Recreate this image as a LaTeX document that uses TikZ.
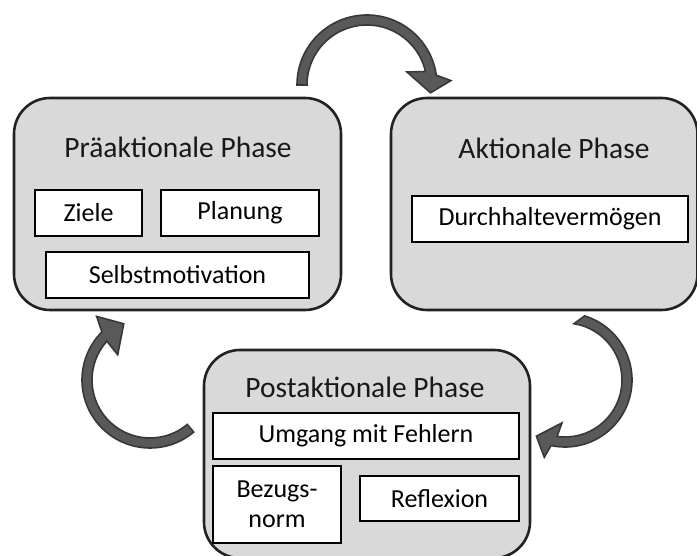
\documentclass[tikz,border=0pt]{standalone}
\usepackage{fontspec}
\setmainfont{Carlito}
\definecolor{boxgray}{HTML}{D9D9D9}
\definecolor{edgec}{HTML}{222222}
\definecolor{arrowfill}{HTML}{595959}
\definecolor{arrowedge}{HTML}{383838}
\begin{document}
\begin{tikzpicture}[x=1pt,y=1pt,
  phase/.style={draw=edgec, line width=2.6pt, fill=boxgray, rounded corners=36pt, inner sep=0pt},
  item/.style={draw=black, line width=2.6pt, fill=white, inner sep=0pt, align=center,
    font=\fontsize{26}{30}\selectfont},
  ptitle/.style={inner sep=0pt, font=\fontsize{29.5}{33}\selectfont, text=black!90},
  cyc/.style={fill=arrowfill, draw=arrowedge, line width=1.6pt, line join=miter}]
\useasboundingbox (0,0) rectangle (697,556);
\fill[white] (0,0) rectangle (697,556);
% phases
\node[phase, minimum width=327pt, minimum height=212pt] (pre) at (177.5,352) {};
\node[phase, minimum width=306.5pt, minimum height=212pt] (akt) at (544.25,352) {};
\node[phase, minimum width=326pt, minimum height=208pt] (post) at (367,102) {};
% titles
\node[ptitle] (pretitle) at (178,409) {Präaktionale Phase};
\node[ptitle] (akttitle) at (554,408) {Aktionale Phase};
\node[ptitle] (posttitle) at (365,169) {Postaktionale Phase};
% items
\node[item, minimum width=107pt, minimum height=46pt] (ziele) at (88.5,343) {Ziele};
\node[item, minimum width=158pt, minimum height=46pt] (planung) at (240,343) {Planung};
\node[item, minimum width=263pt, minimum height=46pt] (selbst) at (177.5,281) {Selbstmotivation};
\node[item, minimum width=276pt, minimum height=46pt] (durch) at (550,337) {Durchhaltevermögen};
\node[item, minimum width=306pt, minimum height=46pt] (umgang) at (366,120) {Umgang mit Fehlern};
\node[item, minimum width=128pt, minimum height=77pt] (bezug) at (277,51.5) {Bezugs-\\norm};
\node[item, minimum width=159pt, minimum height=45pt] (reflex) at (439.5,57.5) {Reflexion};
% cycle arrows
\coordinate (ctop) at (367,471);
\coordinate (cright) at (565,176);
\coordinate (cleft) at (150,176);
\begin{scope}[shift={(ctop)}]
  \filldraw[cyc] (180:70) arc[start angle=180,end angle=8,radius=70]
    -- (3:84) -- (-7:64) -- (18:42) -- (13:60)
    arc[start angle=13,end angle=180,radius=60] -- cycle;
\end{scope}
\begin{scope}[shift={(cright)}]
  \filldraw[cyc] (73:67) arc[start angle=73,end angle=-102,radius=67]
    -- (-105:80) -- (-117:63) -- (-94:43) -- (-98:57)
    arc[start angle=-98,end angle=81,radius=57] -- cycle;
\end{scope}
\begin{scope}[shift={(cleft)}]
  \filldraw[cyc] (-50:68) arc[start angle=-50,end angle=-225,radius=68]
    -- (-230:83) -- (-245:62) -- (-218:41) -- (-222:58)
    arc[start angle=-222,end angle=-50,radius=58] -- cycle;
\end{scope}
\end{tikzpicture}
\end{document}
